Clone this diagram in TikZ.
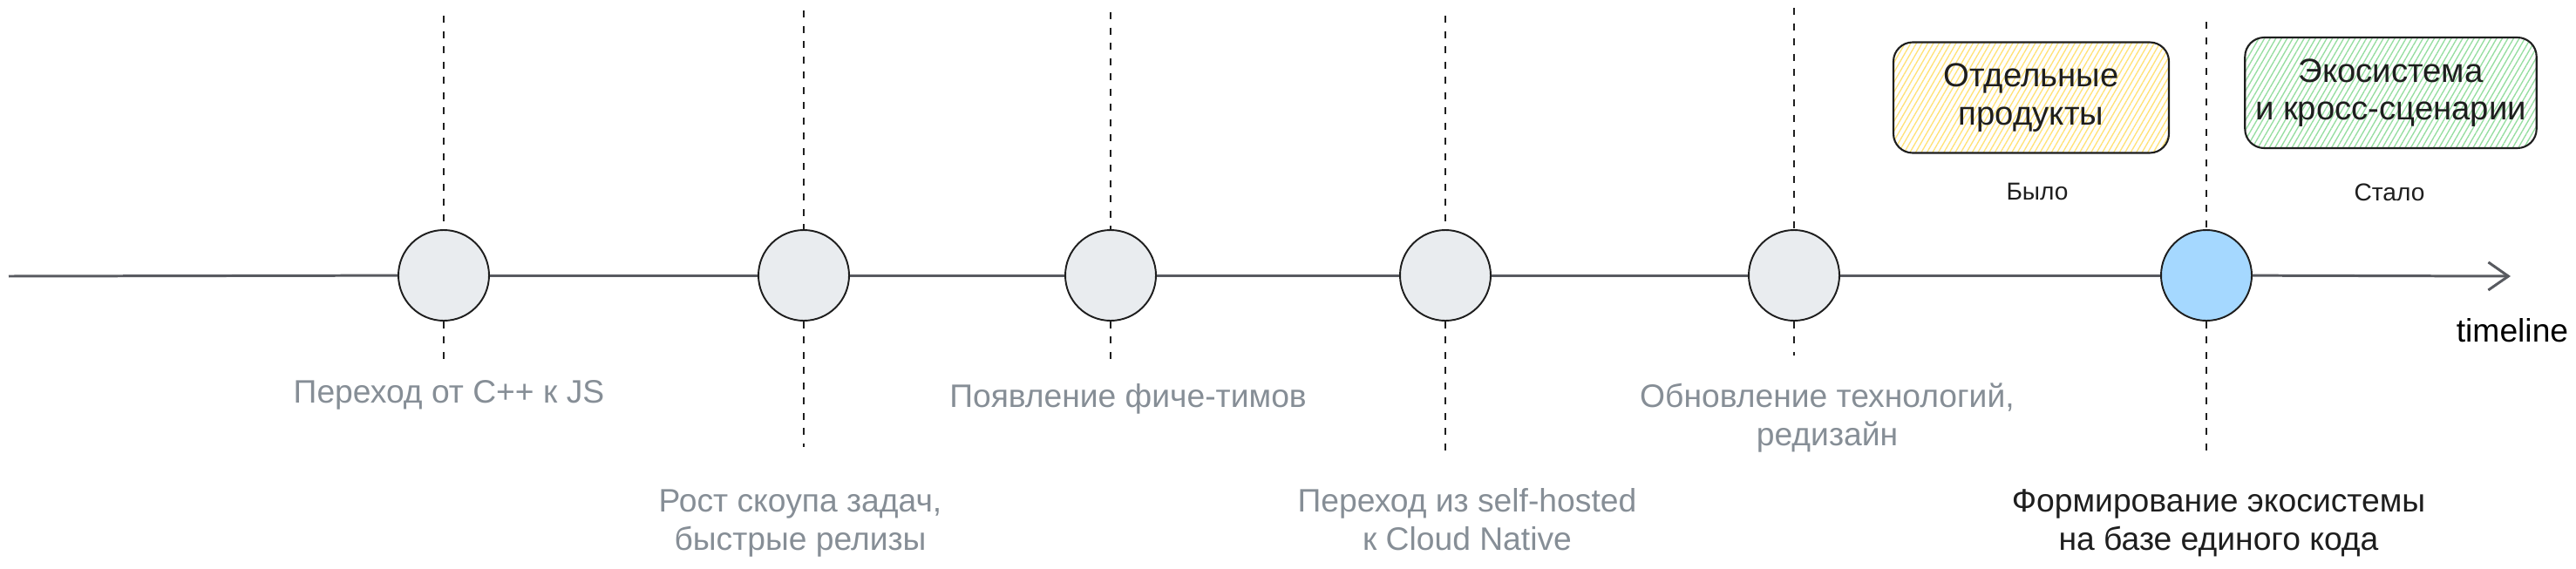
\documentclass[tikz,border=0pt]{standalone}
\usepackage{fontspec}
\setmainfont{Liberation Sans}
\usepackage{tikz}
\usetikzlibrary{arrows.meta,positioning,patterns.meta}
\definecolor{ink}{RGB}{30,30,30}
\definecolor{slate}{RGB}{134,142,150}
\definecolor{dotgray}{RGB}{233,236,239}
\definecolor{dotblue}{RGB}{165,216,255}
\definecolor{hatchyellow}{RGB}{255,226,120}
\definecolor{hatchgreen}{RGB}{150,222,160}
\definecolor{axisgray}{RGB}{88,90,96}
\newcommand{\lblfont}{\fontsize{10.6}{12.4}\selectfont}
\newcommand{\boxfont}{\fontsize{10.9}{12.4}\selectfont}
\newcommand{\capfont}{\fontsize{8}{9.6}\selectfont}
\tikzset{
  event/.style={circle,draw=ink,line width=0.55pt,fill=dotgray,minimum size=1.04cm,inner sep=0pt},
  nowevent/.style={event,fill=dotblue},
  era/.style={draw=ink,line width=0.6pt,rounded corners=0.22cm,minimum height=1.27cm,align=center,font=\boxfont,text=ink,preaction={fill=white}},
  wasbox/.style={era,minimum width=3.16cm,pattern={Lines[angle=60,distance=1.6pt,line width=0.38pt]},pattern color=hatchyellow},
  isbox/.style={era,minimum width=3.33cm,pattern={Lines[angle=60,distance=1.6pt,line width=0.38pt]},pattern color=hatchgreen},
  milestone/.style={anchor=base,align=center,font=\lblfont,text=slate,inner sep=0pt},
  caption/.style={anchor=base,font=\capfont,text=ink,inner sep=0pt},
  guide/.style={draw=ink,line width=0.45pt,dash pattern=on 0.08cm off 0.095cm},
  axis/.style={draw=axisgray,line width=0.85pt},
  axisarr/.style={axis,-{Straight Barb[length=0.23cm,width=0.32cm]}}
}

\begin{document}
\begin{tikzpicture}[font=\lblfont]
  \useasboundingbox (0,0) rectangle (29.55,-6.52);

  % events on the axis
  \node[event] (ev1) at (5.09,-3.16) {};
  \node[event] (ev2) at (9.22,-3.16) {};
  \node[event] (ev3) at (12.74,-3.16) {};
  \node[event] (ev4) at (16.58,-3.16) {};
  \node[event] (ev5) at (20.58,-3.16) {};
  \node[nowevent] (ev6) at (25.31,-3.16) {};

  \coordinate (tstart) at (0.10,-3.17);
  \coordinate (tend) at (28.80,-3.17);
  \draw[axis] (tstart) -- (ev1);
  \draw[axis] (ev1) -- (ev2);
  \draw[axis] (ev2) -- (ev3);
  \draw[axis] (ev3) -- (ev4);
  \draw[axis] (ev4) -- (ev5);
  \draw[axis] (ev5) -- (ev6);
  \draw[axisarr] (ev6) -- (tend);
  \node[anchor=base,inner sep=0pt] (tlabel) at (28.82,-3.92) {timeline};

  % dashed guides
  \coordinate (g1t) at (5.09,-0.18);  \coordinate (g1b) at (5.09,-4.12);
  \coordinate (g2t) at (9.22,-0.12);  \coordinate (g2b) at (9.22,-5.13);
  \coordinate (g3t) at (12.74,-0.14); \coordinate (g3b) at (12.74,-4.20);
  \coordinate (g4t) at (16.58,-0.18); \coordinate (g4b) at (16.58,-5.18);
  \coordinate (g5t) at (20.58,-0.09); \coordinate (g5b) at (20.58,-4.08);
  \coordinate (g6t) at (25.31,-0.25); \coordinate (g6b) at (25.31,-5.18);
  \draw[guide] (g1t) -- (ev1); \draw[guide] (ev1) -- (g1b);
  \draw[guide] (g2t) -- (ev2); \draw[guide] (ev2) -- (g2b);
  \draw[guide] (g3t) -- (ev3); \draw[guide] (ev3) -- (g3b);
  \draw[guide] (g4t) -- (ev4); \draw[guide] (ev4) -- (g4b);
  \draw[guide] (g5t) -- (ev5); \draw[guide] (ev5) -- (g5b);
  \draw[guide] (g6t) -- (ev6); \draw[guide] (ev6) -- (g6b);

  % milestone labels (base = last line)
  \node[milestone] (m1) at (5.15,-4.62) {Переход от C++ к JS};
  \node[milestone] (m2) at (9.18,-6.31) {Рост скоупа задач,\\быстрые релизы};
  \node[milestone] (m3) at (12.94,-4.67) {Появление фиче-тимов};
  \node[milestone] (m4) at (16.83,-6.31) {Переход из self-hosted\\к Cloud Native};
  \node[milestone] (m5) at (20.96,-5.11) {Обновление технологий,\\редизайн};
  \node[milestone,text=ink] (m6) at (25.45,-6.31) {Формирование экосистемы\\на базе единого кода};

  % before / after
  \node[wasbox] (before) at (23.30,-1.12) {Отдельные\\продукты};
  \node[isbox] (after) at (27.425,-1.065) {Экосистема\\и кросс-сценарии};
  \node[caption] (was) at (23.37,-2.29) {Было};
  \node[caption] (became) at (27.41,-2.30) {Стало};
\end{tikzpicture}
\end{document}
